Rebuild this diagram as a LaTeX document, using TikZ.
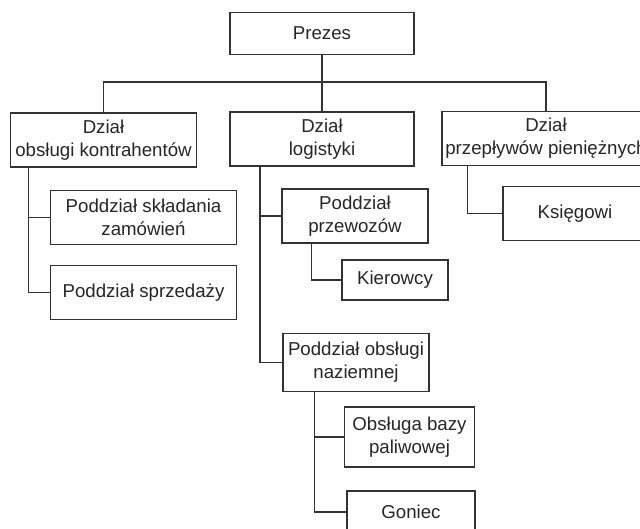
\documentclass[tikz,border=0pt]{standalone}
\usepackage{fontspec}
\setmainfont{Liberation Sans}
\begin{document}
\begin{tikzpicture}[x=0.75pt,y=-0.75pt,
    box/.style={rectangle,draw=black!80,line width=0.9pt,align=center,text=black!85,
        font=\fontsize{14}{17}\selectfont,inner sep=0pt},
    line/.style={black!80,line width=0.9pt}]
            %schemat organizacyjny: prezes, trzy dzialy i ich poddzialy
            \useasboundingbox (0,0) rectangle (640,529);
            \node[box,minimum width=138pt,minimum height=31pt] (1) at (322,33.5) {Prezes};
            \node[box,minimum width=139pt,minimum height=40.5pt] (2) at (103.5,140) {Dział\\obsługi kontrahentów};
            \node[box,minimum width=138pt,minimum height=40.5pt] (3) at (322,139) {Dział\\logistyki};
            \node[box,minimum width=156pt,minimum height=40pt] (4) at (546,138.5) {Dział\\przepływów pieniężnych};
            \node[box,minimum width=139pt,minimum height=40pt] (5) at (143.5,217.5) {Poddział składania\\zamówień};
            \node[box,minimum width=139pt,minimum height=40pt] (6) at (143.5,292.5) {Poddział sprzedaży};
            \node[box,minimum width=109.5pt,minimum height=40.5pt] (7) at (355,216) {Poddział\\przewozów};
            \node[box,minimum width=79.5pt,minimum height=30pt] (8) at (395,280) {Kierowcy};
            \node[box,minimum width=109.5pt,minimum height=44pt] (9) at (356,362.5) {Poddział obsługi\\naziemnej};
            \node[box,minimum width=97pt,minimum height=45pt] (10) at (409.5,437) {Obsługa bazy\\paliwowej};
            \node[box,minimum width=96pt,minimum height=31.5pt] (11) at (411,512) {Goniec};
            \node[box,minimum width=108pt,minimum height=40pt] (12) at (575,213.5) {Księgowi};
            \coordinate (hub) at (322,82);

            \draw[line] (1) -- (3);
            \draw[line] (2.north) |- (hub) -| (4.north);
            \draw[line] ([xshift=13.5pt]2.south west) |- (5.west);
            \draw[line] ([xshift=13.5pt]2.south west) |- (6.west);
            \draw[line] ([xshift=23pt]3.south west) |- (7.west);
            \draw[line] ([xshift=23pt]3.south west) |- (9.west);
            \draw[line] ([xshift=22.5pt]7.south west) |- (8.west);
            \draw[line] ([xshift=24pt]9.south west) |- (10.west);
            \draw[line] ([xshift=24pt]9.south west) |- (11.west);
            \draw[line] ([xshift=19.5pt]4.south west) |- (12.west);

        \end{tikzpicture}
\end{document}
